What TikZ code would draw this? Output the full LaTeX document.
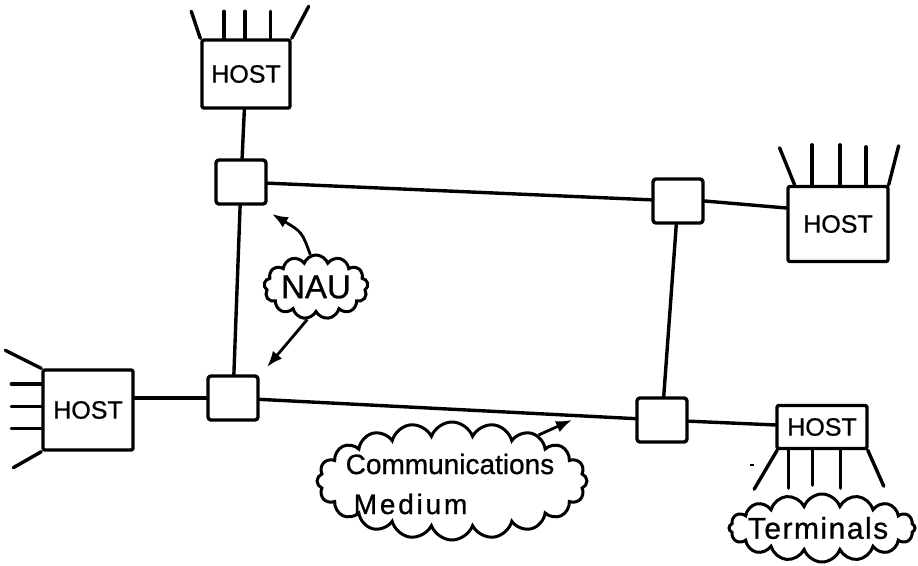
\documentclass[tikz,border=0pt]{standalone}
\usepackage{fontspec}
\setmainfont[FakeBold=0.8]{Liberation Sans}
\usetikzlibrary{shapes.symbols,arrows.meta,calc}
\tikzset{
  ink/.style={line width=3.4pt, line cap=round, line join=round},
  label/.style={font=\fontsize{#1}{#1}\selectfont},
  hostbox/.style={ink, draw, rectangle, rounded corners=2pt, inner sep=0pt,
    label=25},
  naubox/.style={ink, draw, rectangle, rounded corners=3pt, inner sep=0pt,
    minimum width=50pt, minimum height=44pt},
  link/.style={ink},
  leg/.style={ink},
  puff/.style={line width=3pt, draw, cloud, cloud ignores aspect, inner sep=0pt,
    cloud puff arc=140},
  pointer/.style={line width=2.8pt, -{Latex[length=16pt,width=12pt]}},
}
\begin{document}
\begin{tikzpicture}[x=1pt,y=-1pt]
\useasboundingbox (0,0) rectangle (918,565);

% hosts
\node[hostbox, minimum width=88pt, minimum height=68pt] (hostT) at (246,74) {HOST};
\node[hostbox, minimum width=100pt, minimum height=75pt] (hostR) at (838,224) {HOST};
\node[hostbox, minimum width=90pt, minimum height=80pt] (hostL) at (88,410) {HOST};
\node[hostbox, minimum width=90pt, minimum height=43pt] (hostB) at (822,427) {HOST};

% network access units
\node[naubox] (nauTL) at (241,182) {};
\node[naubox] (nauTR) at (678,201) {};
\node[naubox] (nauBL) at (233,398) {};
\node[naubox] (nauBR) at (662,420) {};

% ring of links
\draw[link] (nauTL) -- (nauTR);
\draw[link] (nauTR) -- (nauBR);
\draw[link] (nauBR) -- (nauBL);
\draw[link] (nauBL) -- (nauTL);

% host attachments
\draw[link] (hostT) -- (nauTL);
\draw[link] (nauTR.east) -- ([yshift=16pt]hostR.west);
\draw[link] (nauBL.west) -- (nauBL.west -| hostL.east);
\draw[link] (nauBR) -- (hostB);

% terminal lines: top host
\draw[leg] (hostT.north west) -- ++(-9,-27);
\draw[leg] ($(hostT.north west)!0.26!(hostT.north east)$) -- ++(0,-27);
\draw[leg] ($(hostT.north west)!0.49!(hostT.north east)$) -- ++(0,-27);
\draw[leg] ($(hostT.north west)!0.77!(hostT.north east)$) -- ++(0,-27);
\draw[leg] (hostT.north east) -- ++(17,-32);

% terminal lines: right host
\draw[leg] ($(hostR.north west)!0.08!(hostR.north east)$) -- ++(-15,-37);
\draw[leg] ($(hostR.north west)!0.25!(hostR.north east)$) -- ++(0,-40);
\draw[leg] ($(hostR.north west)!0.52!(hostR.north east)$) -- ++(0,-40);
\draw[leg] ($(hostR.north west)!0.77!(hostR.north east)$) -- ++(0,-38);
\draw[leg] ($(hostR.north west)!0.99!(hostR.north east)$) -- ++(10,-39);

% terminal lines: left host
\draw[leg] (hostL.north west) -- ++(-36,-18);
\draw[leg] ($(hostL.north west)!0.19!(hostL.south west)$) -- ++(-30,0);
\draw[leg] ($(hostL.north west)!0.46!(hostL.south west)$) -- ++(-30,0);
\draw[leg] ($(hostL.north west)!0.72!(hostL.south west)$) -- ++(-30,0);
\draw[leg] (hostL.south west) -- ++(-28,16);

% terminal lines: bottom-right host
\draw[leg] ($(hostB.south west)!0.02!(hostB.south east)$) -- ++(-23,39);
\draw[leg] ($(hostB.south west)!0.14!(hostB.south east)$) -- ++(0,38);
\draw[leg] ($(hostB.south west)!0.40!(hostB.south east)$) -- ++(0,35);
\draw[leg] ($(hostB.south west)!0.70!(hostB.south east)$) -- ++(0,38);
\draw[leg] ($(hostB.south west)!0.99!(hostB.south east)$) -- ++(16,36);
\draw[line width=1.5pt] (750,465) -- (754,465);

% callouts
\node[puff, cloud puffs=13, minimum width=104pt, minimum height=64pt] (nau) at (316,287) {};
\node[label=33] (nauText) at (nau) {NAU};

\node[puff, cloud puffs=16, minimum width=186pt, minimum height=68pt] (term) at (822,528) {};
\node[label=30] (termText) at (818,528) {\addfontfeatures{LetterSpace=5}Terminals};

\node[puff, cloud puffs=20, minimum width=270pt, minimum height=118pt] (medium) at (452,481) {};
\node[label=28, align=left] (mediumText) at (450,484)
  {Communications\\[12pt]\hspace*{8pt}{\addfontfeatures{LetterSpace=10}Medium}};

\coordinate (tipA) at (272,214);
\coordinate (tipB) at (267,367);
\coordinate (tipC) at (572,420);
\draw[pointer] (nau.100) .. controls (302,232) .. (tipA);
\draw[pointer] (nau.255) .. controls (290,340) .. (tipB);
\draw[pointer] (medium.28) -- (tipC);
\end{tikzpicture}
\end{document}
